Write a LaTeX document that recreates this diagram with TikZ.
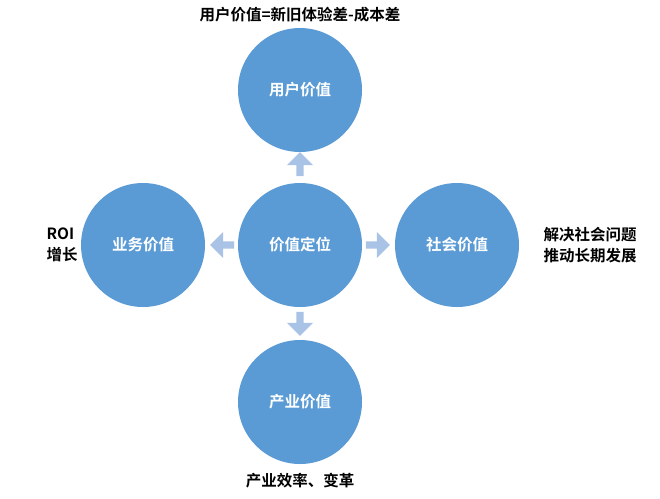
\documentclass[tikz,border=0pt]{standalone}
\usepackage{fontspec}
\setmainfont{Noto Sans CJK SC}[BoldFont={Noto Sans CJK SC Bold}]
\usetikzlibrary{shapes.arrows,positioning}
\definecolor{ballblue}{HTML}{5B9BD5}
\definecolor{arrowblue}{HTML}{A8C3E5}

\begin{document}
\begin{tikzpicture}[x=1pt,y=1pt, ball/.style={circle, fill=ballblue, minimum size=124pt, text=white, font=\bfseries\fontsize{15.5}{18}\selectfont}, pointer/.style={single arrow, fill=arrowblue, minimum height=24pt, minimum width=26pt, single arrow head extend=3pt, inner sep=1pt}, note/.style={font=\bfseries\fontsize{15.5}{21}\selectfont, align=left}]
\useasboundingbox (0,0) rectangle (660,-498);
\node[ball](center) at (300,-245){价值定位};
\node[ball](user) at (300,-90){用户价值};
\node[ball](business) at (143,-245){业务价值};
\node[ball](society) at (457,-245){社会价值};
\node[ball](industry) at (300,-402){产业价值};
\node[pointer,rotate=90](up) at (300,-166){};
\node[pointer,rotate=180](left) at (224,-245){};
\node[pointer](right) at (376,-245){};
\node[pointer,rotate=-90](down) at (300,-322){};
\node[note](usernote) at (300,-15){用户价值=新旧体验差-成本差};
\node[note](businessnote) at (62,-245){ROI\\增长};
\node[note](societynote) at (590,-245){解决社会问题\\推动长期发展};
\node[note](industrynote) at (300,-481){产业效率、变革};
\end{tikzpicture}
\end{document}
